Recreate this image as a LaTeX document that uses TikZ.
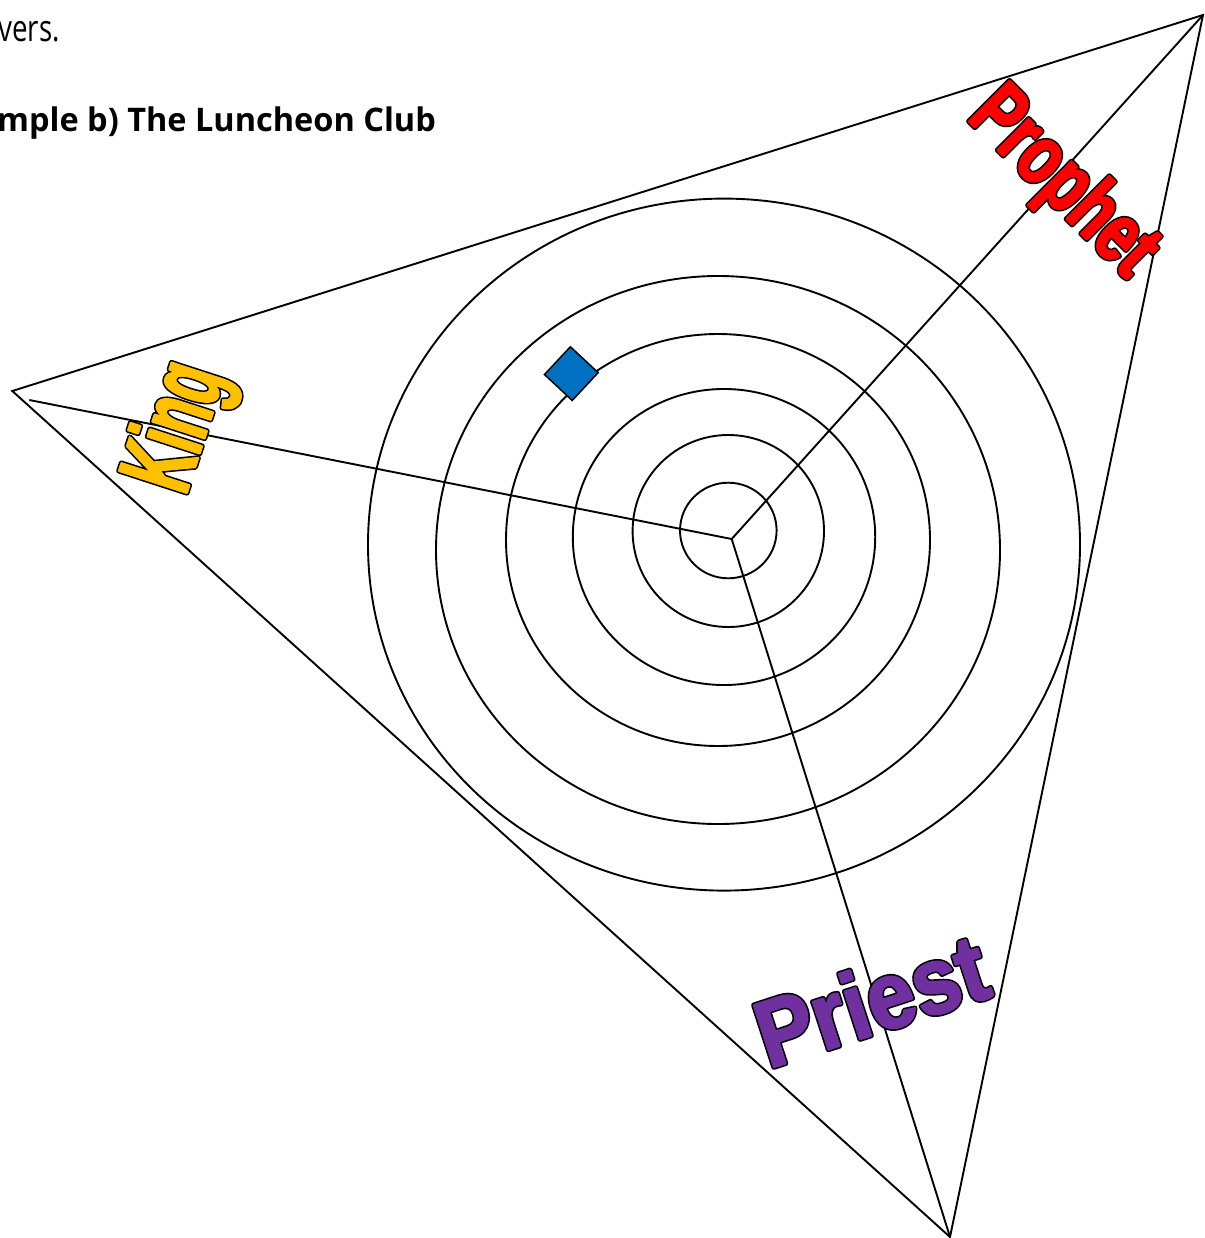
\documentclass[tikz,border=0pt]{standalone}
\usepackage{fontspec}
\setmainfont{Liberation Sans}
\newfontfamily\headfont{Open Sans}
\newfontfamily\kingfont{Liberation Sans}[FakeStretch=0.55]
\newfontfamily\prophetfont{Liberation Sans}[FakeStretch=0.72]
\newfontfamily\priestfont{Liberation Sans}[FakeStretch=0.9]
\usetikzlibrary{calc}
\definecolor{kinggold}{HTML}{FFC000}
\definecolor{prophetred}{HTML}{FF0000}
\definecolor{priestpurple}{HTML}{7030A0}
\definecolor{markblue}{HTML}{0070C0}
\tikzset{
  edge/.style={line width=1.9pt, black},
  ring/.style={line width=1.9pt, black},
  arttext/.style={inner sep=0pt, outer sep=0pt},
  markbox/.style={draw=black, line width=1.5pt, fill=markblue, minimum size=38pt, inner sep=0pt},
}
% heavy text with a black outline: colour, text
\newcommand\artword[2]{%
  \rlap{\color{black}\special{pdf:literal direct 2 Tr 5.2 w 1 j}#2\special{pdf:literal direct 0 Tr}}%
  {\color{#1}\special{pdf:literal direct 2 Tr 2 w 1 j}#2\special{pdf:literal direct 0 Tr}}}
\begin{document}
\begin{tikzpicture}[x=1pt, y=-1pt]
\useasboundingbox (0,0) rectangle (1204,1238);
\fill[white] (0,0) rectangle (1204,1238);

% header text (cut off by the page edge)
\node[inner sep=0pt, anchor=base east] (bodyline) at (60,42)
  {\headfont\fontsize{37}{37}\selectfont\scalebox{0.75}[1]{vers.}};
\node[inner sep=0pt, anchor=base west] (heading) at (-3,132)
  {\headfont\bfseries\fontsize{32.5}{32.5}\selectfont mple b) The Luncheon Club};

% corners and centre
\coordinate (L) at (12.3,391);
\coordinate (TR) at (1203,15);
\coordinate (B) at (950,1237);
\coordinate (C) at (731.7,539);
\coordinate (Kend) at (29.3,400);

% rings
\draw[ring] (728.3,530.5) ellipse [x radius=48.3, y radius=47.8];
\draw[ring] (728.3,531) ellipse [x radius=95.7, y radius=96];
\draw[ring] (724,537) ellipse [x radius=151.2, y radius=148];
\draw[ring] (718,540) ellipse [x radius=212, y radius=206];
\draw[ring] (718,550) ellipse [x radius=282, y radius=274];
\draw[ring] (724,544.6) ellipse [x radius=356, y radius=346];

% triangle and spokes
\draw[edge, line join=miter] (L) -- (TR) -- (B) -- cycle;
\draw[edge] (Kend) -- (C);
\draw[edge] (C) -- (TR);
\draw[edge] (C) -- (B);

% marker
\node[markbox, rotate=47] (mark) at (571.3,373.6) {};

% word art labels
\node[arttext, rotate=72] (king) at (180,428)
  {\kingfont\bfseries\fontsize{104}{104}\selectfont\artword{kinggold}{King}};
\node[arttext, rotate=-45] (prophet) at (1062,184)
  {\prophetfont\bfseries\fontsize{84}{84}\selectfont\artword{prophetred}{Prophet}};
\node[arttext, rotate=18] (priest) at (871,1000)
  {\priestfont\bfseries\fontsize{95}{95}\selectfont\artword{priestpurple}{Priest}};
\end{tikzpicture}
\end{document}
